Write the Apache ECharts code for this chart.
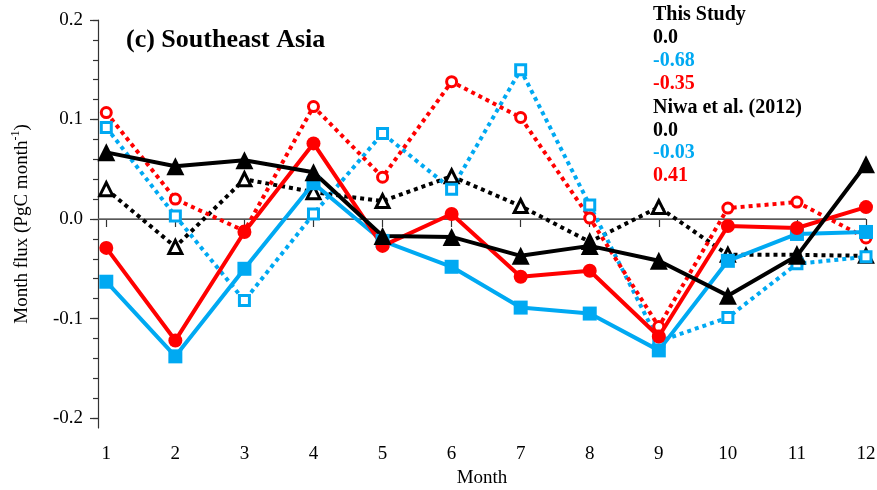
<!DOCTYPE html>
<html>
<head>
<meta charset="utf-8">
<script src="https://cdn.jsdelivr.net/npm/echarts@6/dist/echarts.min.js"></script>
<style>html,body{margin:0;padding:0;background:#fff}#c{width:877px;height:490px}</style>
</head>
<body>
<div id="c"></div>
<script>
const months = [1,2,3,4,5,6,7,8,9,10,11,12];
const thisBlack = [0.067,0.053,0.059,0.047,-0.017,-0.018,-0.037,-0.027,-0.042,-0.077,-0.037,0.055];
const thisBlue  = [-0.063,-0.138,-0.050,0.036,-0.022,-0.048,-0.089,-0.095,-0.132,-0.042,-0.015,-0.013];
const thisRed   = [-0.029,-0.122,-0.013,0.076,-0.027,0.005,-0.058,-0.052,-0.118,-0.007,-0.009,0.012];
const niwaBlack = [0.030,-0.028,0.040,0.027,0.018,0.043,0.013,-0.023,0.012,-0.036,-0.036,-0.037];
const niwaBlue  = [0.092,0.003,-0.082,0.005,0.086,0.030,0.150,0.014,-0.123,-0.099,-0.045,-0.038];
const niwaRed   = [0.107,0.020,-0.012,0.113,0.042,0.138,0.102,0.001,-0.108,0.011,0.017,-0.019];
const yTicks = [-0.2,-0.1,0.0,0.1,0.2];
const yMinorTicks = [-0.2,-0.18,-0.16,-0.14,-0.12,-0.1,-0.08,-0.06,-0.04,-0.02,0,0.02,0.04,0.06,0.08,0.1,0.12,0.14,0.16,0.18,0.2];
const legendTexts = ['This Study','0.0','-0.68','-0.35','Niwa et al. (2012)','0.0','-0.03','0.41'];
const legendColors = ['#000','#000','blue','red','#000','#000','blue','red'];
const titleText = '(c) Southeast Asia';

const BLUE = '#00A9F2', RED = '#FF0000', BLACK = '#000000';
const colorMap = {blue: BLUE, red: RED, '#000': BLACK};
const FONT = 'Liberation Serif';
const legendCenters = [15,38,61,84,108,131,153,176];

function pairs(arr){ return months.map((m,i)=>[m, arr[i]]); }

function solid(name, data, color, symbol, size){
  return {name, type:'line', data:pairs(data), symbol, symbolSize:size,
    lineStyle:{color, width:4}, itemStyle:{color, borderWidth:0},
    z:3, animation:false};
}
function dotted(name, data, color, symbol, size){
  return {name, type:'line', data:pairs(data), symbol, symbolSize:size, showAllSymbol:true,
    lineStyle:{color, width:4, type:[4,4]}, itemStyle:{color:'#fff', borderColor:color, borderWidth:3},
    z:2, animation:false};
}

const chart = echarts.init(document.getElementById('c'));
const graphics = legendTexts.map((t,i)=>({
  type:'text', x:653, y: legendCenters[i],
  style:{text:t, fill: colorMap[legendColors[i]], font:'bold 20px "'+FONT+'"', verticalAlign:'middle', align:'left'}, z:10
}));

chart.setOption({
  animation:false,
  title:{text:titleText, left:121, top:22, textStyle:{fontFamily:FONT, fontWeight:'bold', fontSize:26, color:'#000'}},
  grid:{left:98, right:11, top:20, bottom:62, outerBoundsMode:'none', containLabel:false},
  xAxis:{type:'value', min:0.88, max:12,
    name:'Month', nameLocation:'middle', nameGap:41,
    nameTextStyle:{fontFamily:FONT, fontSize:19, color:'#000'},
    axisLine:{lineStyle:{color:'#333', width:1.2}},
    axisTick:{show:true, inside:false, length:8, customValues:months, lineStyle:{color:'#333', width:1.2}},
    axisLabel:{customValues:months, margin:17, fontFamily:FONT, fontSize:19, color:'#000'},
    splitLine:{show:false}},
  yAxis:[{type:'value', min:-0.21, max:0.2,
    name:'{a|Month flux (PgC month}{s|-1}{a|)}', nameLocation:'middle', nameGap:64,
    nameTextStyle:{rich:{a:{fontFamily:FONT, fontSize:19, color:'#000'}, s:{fontFamily:FONT, fontSize:12, color:'#000', verticalAlign:'top', padding:[0,0,12,0]}}},
    axisLine:{show:true, lineStyle:{color:'#333', width:1.2}},
    axisTick:{show:true, inside:false, length:8, customValues:yTicks, lineStyle:{color:'#333', width:1.2}},
    axisLabel:{customValues:yTicks, margin:15, fontFamily:FONT, fontSize:19, color:'#000', formatter:v=>v.toFixed(1)},
    splitLine:{show:false}},
    {type:'value', min:-0.21, max:0.2, position:'left',
    axisLine:{show:false},
    axisTick:{show:true, inside:false, length:5, customValues:yMinorTicks, lineStyle:{color:'#333', width:1.2}},
    axisLabel:{show:false}, splitLine:{show:false}}],
  graphic:graphics,
  series:[
    {type:'line', data:[[0.88,0],[12,0]], symbol:'none', lineStyle:{color:'#666', width:1.5}, z:1, silent:true, animation:false},
    dotted('Niwa black', niwaBlack, BLACK, 'triangle', 13),
    dotted('Niwa blue', niwaBlue, BLUE, 'rect', 10),
    dotted('Niwa red', niwaRed, RED, 'circle', 10),
    solid('This blue', thisBlue, BLUE, 'rect', 14),
    solid('This red', thisRed, RED, 'circle', 14),
    solid('This black', thisBlack, BLACK, 'triangle', 18)
  ]
});
</script>
</body>
</html>
